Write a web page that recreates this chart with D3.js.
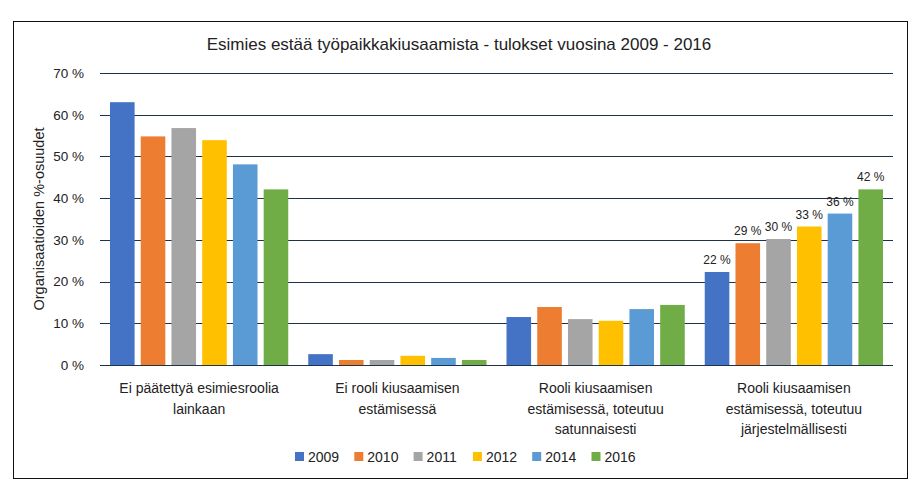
<!DOCTYPE html>
<html lang="fi">
<head>
  <meta charset="UTF-8">
  <title>Esimies estää työpaikkakiusaamista</title>
  <script src="https://d3js.org/d3.v7.min.js"></script>
  <style>
    body { margin: 0; background: #fff; }
    svg text { font-family: "Liberation Sans", Arial, sans-serif; fill: #222; }
  </style>
</head>
<body>
  <svg width="922" height="491"></svg>
  <script>
    const categories = [
      ["Ei päätettyä esimiesroolia", "lainkaan"],
      ["Ei rooli kiusaamisen", "estämisessä"],
      ["Rooli kiusaamisen", "estämisessä, toteutuu", "satunnaisesti"],
      ["Rooli kiusaamisen", "estämisessä, toteutuu", "järjestelmällisesti"]
    ];
    const years = ["2009", "2010", "2011", "2012", "2014", "2016"];
    const colors = ["#4472c4", "#ed7d31", "#a5a5a5", "#ffc000", "#5b9bd5", "#70ad47"];
    // values per year, one per category (%)
    const values = {
      "2009": [63.0, 2.6, 11.5, 22.3],
      "2010": [54.8, 1.2, 13.9, 29.2],
      "2011": [56.8, 1.2, 11.0, 30.2],
      "2012": [53.9, 2.2, 10.6, 33.2],
      "2014": [48.1, 1.7, 13.4, 36.3],
      "2016": [42.1, 1.2, 14.4, 42.1]
    };
    const labelledCategory = 3;
    const yTicks = [0, 10, 20, 30, 40, 50, 60, 70];

    const svg = d3.select("svg");
    const margin = { top: 73, left: 100, right: 29, bottom: 126 };
    const width = 922 - margin.left - margin.right;
    const height = 491 - margin.top - margin.bottom;

    svg.append("rect")
      .attr("x", 13.5).attr("y", 21.5)
      .attr("width", 894).attr("height", 457)
      .attr("fill", "none").attr("stroke", "#111").attr("stroke-width", 1);

    svg.append("text")
      .attr("x", 459).attr("y", 50)
      .attr("text-anchor", "middle")
      .style("font-size", "17px")
      .text("Esimies estää työpaikkakiusaamista - tulokset vuosina 2009 - 2016");

    const chart = svg.append("g")
      .attr("transform", `translate(${margin.left},${margin.top})`);

    const x0 = d3.scaleBand().domain(d3.range(categories.length)).range([0, width]);
    const x1 = d3.scaleBand().domain(years)
      .range([10, x0.bandwidth() - 10]).paddingInner(0.2);
    const y = d3.scaleLinear().domain([0, 70]).range([height, 0]);

    // gridlines
    chart.append("g")
      .selectAll("line")
      .data(yTicks)
      .join("line")
      .attr("x1", 0).attr("x2", width)
      .attr("y1", d => Math.round(y(d)) + 0.5)
      .attr("y2", d => Math.round(y(d)) + 0.5)
      .attr("stroke", "#1c3349").attr("stroke-width", 1.2);

    const yAxis = chart.append("g")
      .call(d3.axisLeft(y).tickValues(yTicks).tickSize(0).tickPadding(16).tickFormat(d => d + " %"));
    yAxis.select(".domain").remove();
    yAxis.selectAll("text").style("font-size", "13.5px")
      .style("font-family", "Liberation Sans, Arial, sans-serif").attr("fill", "#222");

    // bars
    const groups = chart.selectAll(".grp")
      .data(categories)
      .join("g")
      .attr("class", "grp")
      .attr("transform", (d, i) => `translate(${x0(i)},0)`);

    groups.each(function(c, ci) {
      const g = d3.select(this);
      years.forEach((yr, yi) => {
        const v = values[yr][ci];
        g.append("rect")
          .attr("x", x1(yr))
          .attr("y", y(v))
          .attr("width", x1.bandwidth())
          .attr("height", y(0) - y(v))
          .attr("fill", colors[yi]);
        if (ci === labelledCategory) {
          g.append("text")
            .attr("x", x1(yr) + x1.bandwidth() / 2)
            .attr("y", y(v) - 8)
            .attr("text-anchor", "middle")
            .style("font-size", "12px")
            .text(Math.round(v) + " %");
        }
      });
      // category label
      const t = g.append("text")
        .attr("x", x0.bandwidth() / 2)
        .attr("y", height + 28)
        .attr("text-anchor", "middle")
        .style("font-size", "14px");
      c.forEach((line, li) => {
        t.append("tspan").attr("x", x0.bandwidth() / 2).attr("dy", li === 0 ? 0 : 20.5).text(line);
      });
    });

    // y axis title
    svg.append("text")
      .attr("transform", `translate(44,${margin.top + height / 2}) rotate(-90)`)
      .attr("text-anchor", "middle")
      .style("font-size", "14.5px")
      .text("Organisaatioiden %-osuudet");

    // legend
    const legend = svg.append("g").attr("transform", "translate(295,457)");
    years.forEach((yr, i) => {
      const lg = legend.append("g").attr("transform", `translate(${i * 59.3},0)`);
      lg.append("rect").attr("x", 0).attr("y", -5).attr("width", 9).attr("height", 9).attr("fill", colors[i]);
      lg.append("text").attr("x", 13).attr("y", 5).style("font-size", "14px").text(yr);
    });
  </script>
</body>
</html>
